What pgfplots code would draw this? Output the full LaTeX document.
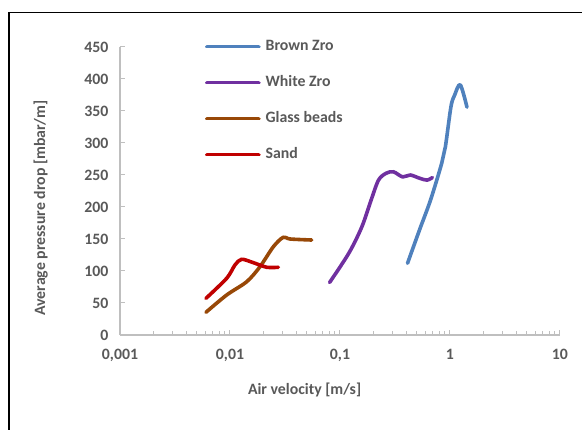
\documentclass[border=0pt]{standalone}
\usepackage{fontspec}
\setmainfont{Carlito}
\usepackage{pgfplots}
\pgfplotsset{compat=1.18}
\definecolor{bz}{HTML}{4F81BD}
\definecolor{wz}{HTML}{7030A0}
\definecolor{gb}{HTML}{984807}
\definecolor{sd}{HTML}{C00000}
\definecolor{txt}{HTML}{595959}
\definecolor{axl}{HTML}{BFBFBF}
\begin{document}
\begin{tikzpicture}[x=1pt,y=1pt]
\useasboundingbox (0,0) rectangle (582,430);
\fill[white] (0,0) rectangle (582,430);
\draw[black, line width=1.3pt] (9,0) -- (9,417.3) -- (582,417.3);
\begin{axis}[
  at={(120pt,95pt)}, anchor=south west,
  scale only axis, width=440pt, height=288pt,
  xmode=log, xmin=0.001, xmax=10, ymin=0, ymax=450,
  axis x line*=bottom, axis y line*=left,
  axis line style={axl, line width=1.3pt, -},
  every tick/.style={axl, line width=1pt},
  major tick length=5pt, minor tick length=4pt,
  xtick={0.001,0.01,0.1,1,10},
  xticklabels={{0,001},{0,01},{0,1},{1},{10}},
  ytick={0,50,...,450},
  /pgf/number format/assume math mode=true,
  tick label style={font=\fontsize{15.8}{18}\selectfont\bfseries, text=txt},
  yticklabel style={xshift=-8pt},
  xticklabel style={yshift=-11pt},
  xlabel={Air velocity [m/s]},
  ylabel={Average pressure drop [mbar/m]},
  label style={font=\fontsize{15.8}{18}\selectfont\bfseries, text=txt},
  xlabel style={at={(axis description cs:0.4195,-0.191)}, anchor=center},
  ylabel style={at={(axis description cs:-0.18,0.441)}, anchor=center, rotate=0},
  legend style={at={(axis description cs:0.186,1.033)}, anchor=north west,
    draw=none, fill=none, font=\fontsize{15.8}{18}\selectfont\bfseries, text=txt,
    row sep=22pt, column sep=5pt,
    nodes={inner sep=0pt, text height=11pt, text depth=3pt}},
  legend cell align=left,
  legend image code/.code={\draw[#1, line cap=round] (0pt,0pt) -- (52pt,0pt);},
  every axis plot/.append style={line width=3.6pt, line cap=round, line join=round, smooth},
]
\addplot[bz] coordinates {
 (0.411,112) (0.528,164) (0.666,211) (0.840,268) (0.908,294) (1.021,357) (1.103,375) (1.24,391) (1.427,356)
};
\addlegendentry{Brown Zro}
\addplot[wz] coordinates {
 (0.0804,82) (0.1205,128) (0.158,169) (0.192,211) (0.224,242) (0.262,252.6) (0.306,255) (0.371,247) (0.435,250) (0.528,245) (0.617,242) (0.692,246)
};
\addlegendentry{White Zro}
\addplot[gb] coordinates {
 (0.00605,35.5) (0.00933,62.5) (0.0142,83.3) (0.01874,106.7) (0.0248,138) (0.0305,152.7) (0.0351,150) (0.0553,148.4)
};
\addlegendentry{Glass beads}
\addplot[sd] coordinates {
 (0.00605,57.3) (0.00933,88.6) (0.0111,109.4) (0.01276,118.3) (0.0163,113) (0.0216,105.8) (0.0275,105.8)
};
\addlegendentry{Sand}
\end{axis}
\end{tikzpicture}
\end{document}
